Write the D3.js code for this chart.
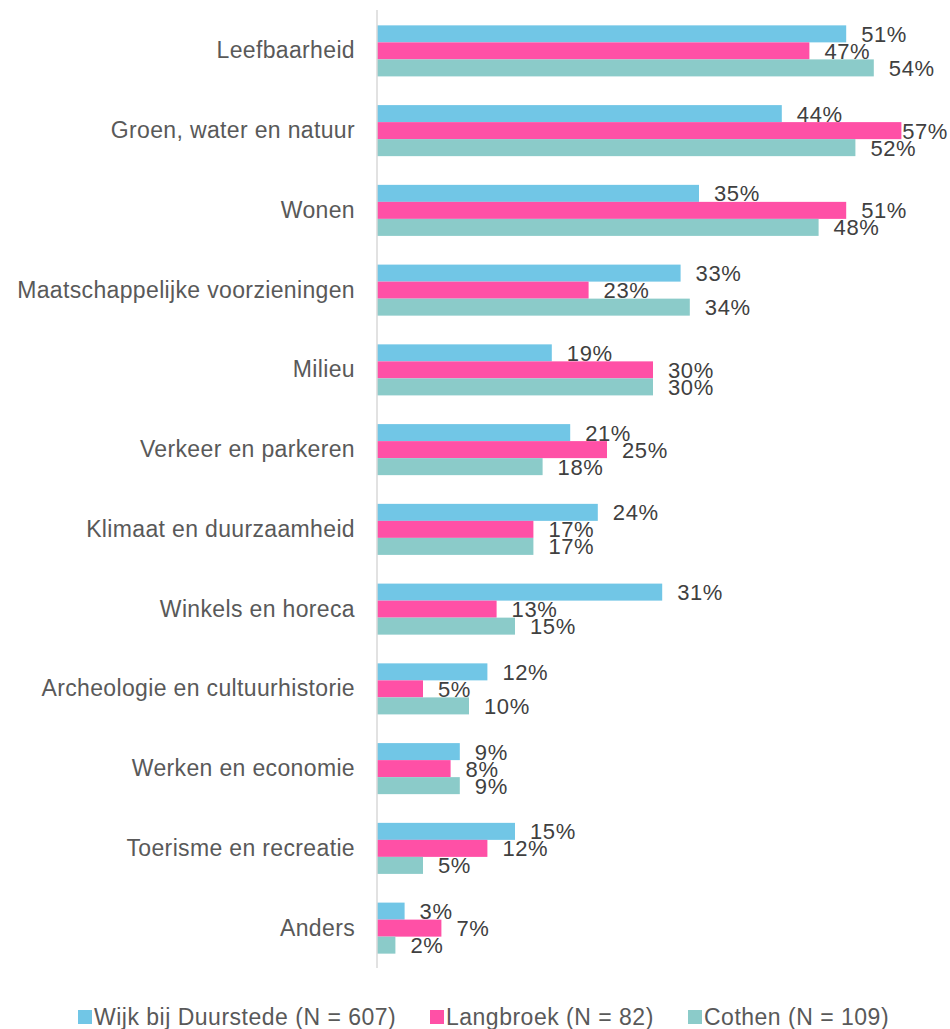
<!DOCTYPE html>
<html>
<head>
<meta charset="utf-8">
<script src="https://cdn.jsdelivr.net/npm/d3@7"></script>
<style>
  body { margin: 0; background: #fff; }
  text { font-family: "Liberation Sans", Arial, sans-serif; }
</style>
</head>
<body>
<svg class="chart" width="950" height="1029"></svg>
<script>
//Categories top to bottom
var categories = ["Leefbaarheid", "Groen, water en natuur", "Wonen", "Maatschappelijke voorzieningen",
    "Milieu", "Verkeer en parkeren", "Klimaat en duurzaamheid", "Winkels en horeca",
    "Archeologie en cultuurhistorie", "Werken en economie", "Toerisme en recreatie", "Anders"];

//Series names (legend)
var seriesNames = ["Wijk bij Duurstede (N = 607)", "Langbroek (N = 82)", "Cothen (N = 109)"];

//Values in percent, per series
var wijk = [51, 44, 35, 33, 19, 21, 24, 31, 12, 9, 15, 3];
var langbroek = [47, 57, 51, 23, 30, 25, 17, 13, 5, 8, 12, 7];
var cothen = [54, 52, 48, 34, 30, 18, 17, 15, 10, 9, 5, 2];

var colors = ["#71C6E6", "#FF50A6", "#8BCBC9"];

var series = [wijk, langbroek, cothen];

var W = 950;
var svg = d3.select(".chart");

//Scales
var x = d3.scaleLinear().domain([0, 60]).range([377, 929]);
var y = d3.scaleBand().domain(categories).range([11, 968]).paddingInner(0.36).paddingOuter(0.18);
var ySub = d3.scaleBand().domain(d3.range(series.length)).range([0, y.bandwidth()]);

//Bars
var groups = svg.append("g").selectAll("g")
    .data(categories)
    .join("g")
    .attr("transform", function(d){ return "translate(0," + y(d) + ")"; });

groups.each(function(cat, i){
    var g = d3.select(this);
    series.forEach(function(vals, s){
        g.append("rect")
            .attr("x", x(0))
            .attr("y", ySub(s))
            .attr("width", x(vals[i]) - x(0))
            .attr("height", ySub.bandwidth())
            .attr("fill", colors[s]);
        var label = g.append("text")
            .attr("y", ySub(s) + ySub.bandwidth() / 2)
            .attr("dy", "0.36em")
            .attr("font-size", 22)
            .attr("letter-spacing", 0.6)
            .attr("fill", "#404040")
            .text(vals[i] + "%");
        //keep the label inside the picture
        var lw = label.node().getComputedTextLength();
        label.attr("x", Math.min(x(vals[i]) + 15, W - 2 - lw));
    });
});

//Category labels
var yAxis = svg.append("g")
    .attr("transform", "translate(" + x(0) + ",0)")
    .call(d3.axisLeft(y).tickSize(0).tickPadding(22));
yAxis.select(".domain").remove();
yAxis.selectAll("text")
    .attr("font-size", 23)
    .attr("letter-spacing", 0.35)
    .attr("font-family", "Liberation Sans, Arial, sans-serif")
    .attr("fill", "#595959");

//Vertical axis line
svg.append("line")
    .attr("x1", x(0)).attr("x2", x(0))
    .attr("y1", 10).attr("y2", 968)
    .attr("stroke", "#d9d9d9")
    .attr("stroke-width", 1.5);

//Legend
var legendX = [78, 430, 688];
var legend = svg.append("g").selectAll("g")
    .data(seriesNames)
    .join("g")
    .attr("transform", function(d, i){ return "translate(" + legendX[i] + ",1010)"; });
legend.append("rect")
    .attr("width", 14).attr("height", 14)
    .attr("fill", function(d, i){ return colors[i]; });
legend.append("text")
    .attr("x", 16)
    .attr("y", 7)
    .attr("dy", "0.36em")
    .attr("font-size", 23)
    .attr("letter-spacing", 0.5)
    .attr("fill", "#595959")
    .text(function(d){ return d; });
</script>
</body>
</html>
